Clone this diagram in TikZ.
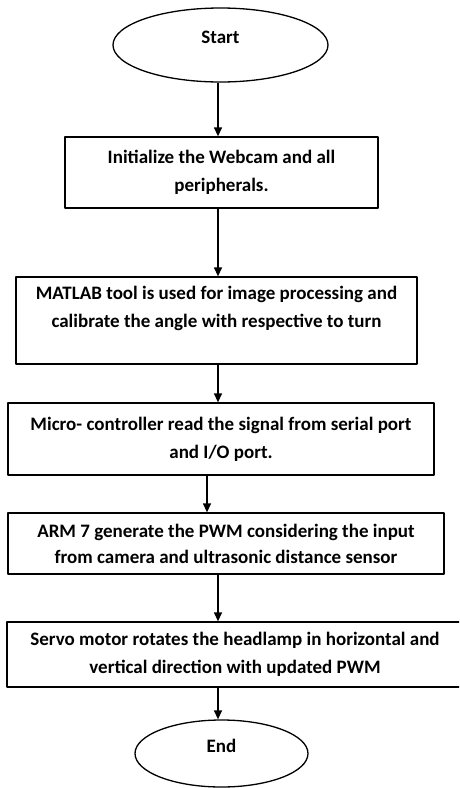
\documentclass[tikz,border=0pt]{standalone}
\usepackage{fontspec}
\setmainfont{Carlito}
\usetikzlibrary{shapes.geometric,arrows.meta}

\begin{document}
\begin{tikzpicture}[x=1pt, y=-1pt, line width=1.3pt, line join=round, >={Triangle[length=9pt,width=8pt]}, font=\fontsize{19}{28}\selectfont\bfseries]
	\tikzset{terminal/.style={draw, ellipse, inner sep=0pt, text depth=15pt}}
	\tikzset{process/.style={draw, rectangle, align=center, inner sep=0pt}}
	\useasboundingbox (0,0) rectangle (459,788);
	\clip (0,0) rectangle (459,788);
	\node[terminal, minimum width=215pt, minimum height=74pt] (start) at (220.5,45) {Start};
	\node[process, minimum width=313pt, minimum height=71pt] (init) at (221.5,172.5) {Initialize the Webcam and all\\ peripherals.};
	\node[process, minimum width=401pt, minimum height=87pt] (matlab) at (216.5,320.5) {MATLAB tool is used for image processing and\\ calibrate the angle with respective to turn\\ ~};
	\node[process, minimum width=426pt, minimum height=72pt] (micro) at (221,439) {Micro- controller read the signal from serial port\\ and I/O port.};
	\node[process, minimum width=436pt, minimum height=61pt] (arm) at (226,543.5) {ARM 7 generate the PWM considering the input\\[-2pt] from camera and ultrasonic distance sensor};
	\node[process, minimum width=456pt, minimum height=65pt] (servo) at (235,654.5) {Servo motor rotates the headlamp in horizontal and\\ vertical direction with updated PWM};
	\node[terminal, minimum width=173pt, minimum height=67pt] (end) at (221.5,753.5) {End};
	\draw[->] (start.south -| 218,0) -- (init.north -| 218,0);
	\draw[->] (init.south -| 218,0) -- (matlab.north -| 218,0);
	\draw[->] (matlab.south -| 218,0) -- (micro.north -| 218,0);
	\draw[->] (micro.south -| 207,0) -- (arm.north -| 207,0);
	\draw[->] (arm.south -| 218,0) -- (servo.north -| 218,0);
	\draw[->] (servo.south -| 218,0) -- (end.north -| 218,0);
\end{tikzpicture}
\end{document}
